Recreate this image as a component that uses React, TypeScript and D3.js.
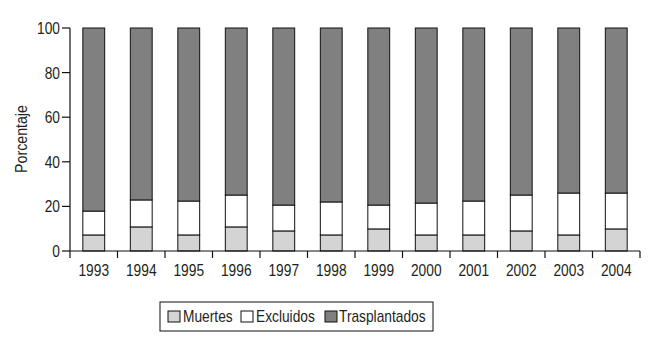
import React from "react";
import * as d3 from "d3";

const years = ["1993", "1994", "1995", "1996", "1997", "1998", "1999", "2000", "2001", "2002", "2003", "2004"];
const muertes = [7.2, 10.8, 7.2, 10.8, 9.0, 7.2, 9.9, 7.2, 7.2, 9.0, 7.2, 9.9];
const excluidos = [10.7, 12.1, 15.2, 14.3, 11.6, 14.8, 10.7, 14.3, 15.2, 16.1, 18.8, 16.1];
const trasplantados = years.map((_, i) => +(100 - muertes[i] - excluidos[i]).toFixed(1));
const yTicks = [0, 20, 40, 60, 80, 100];

const seriesNames = ["Muertes", "Excluidos", "Trasplantados"];
const seriesColors = ["#d4d4d4", "#ffffff", "#808080"];

const W = 658;
const H = 351;
const FONT = "'Liberation Sans', Arial, sans-serif";
const SQUEEZE = 0.86; // fake condensed face

// narrow text: place at (x,y) and squeeze horizontally
function NText({ x, y, anchor = "start", size = 16, children }: any) {
  return (
    <g transform={`translate(${x},${y}) scale(${SQUEEZE},1)`}>
      <text textAnchor={anchor} fontSize={size} fill="#231f20">
        {children}
      </text>
    </g>
  );
}

export default function App() {
  const rows = years.map((y, i) => ({
    year: y,
    Muertes: muertes[i],
    Excluidos: excluidos[i],
    Trasplantados: trasplantados[i],
  }));

  const x = d3.scaleBand().domain(years).range([70, 640]).paddingInner(0.54).paddingOuter(0.27);
  const y = d3.scaleLinear().domain([0, 100]).range([251, 28]);
  const stack = d3.stack<any>().keys(seriesNames);
  const layers = stack(rows);
  const color = d3.scaleOrdinal<string>().domain(seriesNames).range(seriesColors);

  const step = (640 - 70) / years.length;

  // legend pieces
  const legend = [
    { name: "Muertes", sx: 168, tx: 183 },
    { name: "Excluidos", sx: 241, tx: 256 },
    { name: "Trasplantados", sx: 325, tx: 339 },
  ];

  return (
    <svg
      width={W}
      height={H}
      style={{ position: "absolute", left: 0, top: 0, background: "#fff" }}
      fontFamily={FONT}
    >
      {/* bars */}
      {layers.map((layer) => (
        <g key={layer.key} fill={color(layer.key)} stroke="#111" strokeWidth={1}>
          {layer.map((d) => (
            <rect
              key={d.data.year}
              x={x(d.data.year)}
              y={y(d[1])}
              width={x.bandwidth()}
              height={y(d[0]) - y(d[1])}
            />
          ))}
        </g>
      ))}

      {/* y axis */}
      <line x1={70} x2={70} y1={28} y2={251} stroke="#111" strokeWidth={1.2} />
      {yTicks.map((t) => (
        <g key={t}>
          <line x1={62} x2={70} y1={y(t)} y2={y(t)} stroke="#111" strokeWidth={1.2} />
          <NText x={60} y={y(t) + 6} anchor="end">
            {t}
          </NText>
        </g>
      ))}
      <g transform={`translate(27,139) rotate(-90) scale(${SQUEEZE},1)`}>
        <text textAnchor="middle" fontSize={16.5} fill="#231f20">
          Porcentaje
        </text>
      </g>

      {/* x axis */}
      <line x1={70} x2={640} y1={251} y2={251} stroke="#111" strokeWidth={1.2} />
      {d3.range(years.length + 1).map((k) => (
        <line key={k} x1={70 + k * step} x2={70 + k * step} y1={251} y2={258} stroke="#111" strokeWidth={1.2} />
      ))}
      {years.map((yr) => (
        <NText key={yr} x={(x(yr) ?? 0) + x.bandwidth() / 2} y={276} anchor="middle">
          {yr}
        </NText>
      ))}

      {/* legend */}
      <rect x={160} y={302} width={273} height={29} fill="none" stroke="#111" strokeWidth={1} />
      {legend.map((l) => (
        <g key={l.name}>
          <rect x={l.sx} y={311} width={12} height={11} fill={color(l.name)} stroke="#111" strokeWidth={1} />
          <NText x={l.tx} y={322}>
            {l.name}
          </NText>
        </g>
      ))}
    </svg>
  );
}
